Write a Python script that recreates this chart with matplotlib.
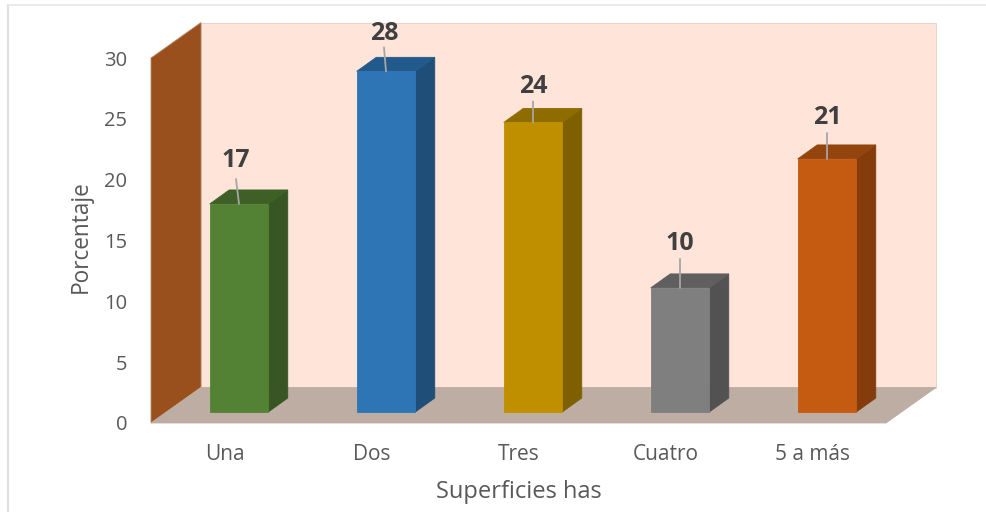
import matplotlib
matplotlib.use('Agg')
import matplotlib.pyplot as plt
from matplotlib.patches import Polygon

categories = ['Una', 'Dos', 'Tres', 'Cuatro', '5 a más']
values = [17.1, 28.0, 23.8, 10.2, 20.8]
y_ticks = [0, 5, 10, 15, 20, 25, 30]

front_colors = ['#548235', '#2E75B6', '#BF8F00', '#7F7F7F', '#C55A11']
side_colors = ['#375623', '#1F4E79', '#7F6000', '#525252', '#843C0C']
top_colors = ['#3E6027', '#225A8C', '#8F6C00', '#5F5F5F', '#94450D']
# leader line end above bar top, pixels (dx, dy), then text gap above that
leader_ends = [(-3, 25), (-2, 24), (0, 21), (0, 29), (0, 26)]
label_gaps = [18, 14, 15, 15, 15]

plt.rcParams['font.family'] = 'Open Sans'
text_color = '#595959'

fig = plt.figure(figsize=(9.87, 5.12), dpi=100)
ax = fig.add_axes([151 / 987, 1 - 423 / 512, 735 / 987, 365 / 512])
ax.set_xlim(0, 5)
ax.set_ylim(0, 30)

# one pixel in data units
px_x = 5 / 735
px_y = 30 / 365
wall_dx = 50 * px_x
wall_dy = 35.5 * px_y
bar_dx = 19.5 * px_x
bar_dy = 14 * px_y
bar_shift_x = 14.5 * px_x
bar_shift_y = 11 * px_y
bar_width = 58.5 * px_x


def poly(pts, color, z, edge=None):
    ax.add_patch(Polygon(pts, closed=True, facecolor=color, edgecolor=edge or color,
                         linewidth=0.6, zorder=z, clip_on=False))


# walls and floor
poly([(wall_dx, wall_dy), (5 + wall_dx, wall_dy), (5 + wall_dx, 30 + wall_dy), (wall_dx, 30 + wall_dy)],
     '#FFE5D9', 1, '#E3CFC3')
poly([(0, 0), (wall_dx, wall_dy), (wall_dx, 30 + wall_dy), (0, 30)], '#9A501D', 2, '#B58A6C')
poly([(0, 0), (5, 0), (5 + wall_dx, wall_dy), (wall_dx, wall_dy)], '#BEADA2', 2)

# bars
for i, val in enumerate(values):
    left = i + 0.5 + bar_shift_x - bar_width / 2
    right = left + bar_width
    base = bar_shift_y
    top = base + val
    ax.bar(left, val, width=bar_width, bottom=base, align='edge', color=front_colors[i],
           edgecolor=front_colors[i], linewidth=0.6, zorder=4, clip_on=False)
    poly([(right, base), (right + bar_dx, base + bar_dy), (right + bar_dx, top + bar_dy), (right, top)],
         side_colors[i], 3)
    poly([(left, top), (right, top), (right + bar_dx, top + bar_dy), (left + bar_dx, top + bar_dy)],
         top_colors[i], 3)
    cx = (left + right) / 2
    dx, dy = leader_ends[i]
    ax.annotate('', xy=(cx, top), xytext=(cx + dx * px_x, top + dy * px_y),
                arrowprops=dict(arrowstyle='-', color='#A6A6A6', lw=1.3, shrinkA=0, shrinkB=0),
                zorder=6, annotation_clip=False)
    ax.text(cx + dx * px_x, top + (dy + label_gaps[i]) * px_y, f'{val:.0f}', ha='center', va='center',
            fontsize=18, fontweight='bold', color='#404040', zorder=6)

ax.set_xticks([i + 0.5 for i in range(len(categories))])
ax.set_xticklabels(categories, fontsize=15, color=text_color)
ax.set_yticks(y_ticks)
ax.set_yticklabels([str(t) for t in y_ticks], fontsize=14.5, color=text_color)
ax.tick_params(axis='both', length=0)
ax.tick_params(axis='x', pad=15)
ax.tick_params(axis='y', pad=17)
for s in ax.spines.values():
    s.set_visible(False)
ax.patch.set_visible(False)

ax.set_xlabel('Superficies has', fontsize=17, color=text_color, labelpad=11)
ax.set_ylabel('Porcentaje', fontsize=16.3, color=text_color, labelpad=8, y=0.51)

# chart frame, only left and top show in the crop
fig.add_artist(plt.Line2D([8.5 / 987, 8.5 / 987], [0, 1 - 5 / 512], color='#E0E0E0', lw=1.6))
fig.add_artist(plt.Line2D([8.5 / 987, 1], [1 - 5 / 512, 1 - 5 / 512], color='#E8E8E8', lw=1.2))

fig.savefig('out.png', dpi=100)
